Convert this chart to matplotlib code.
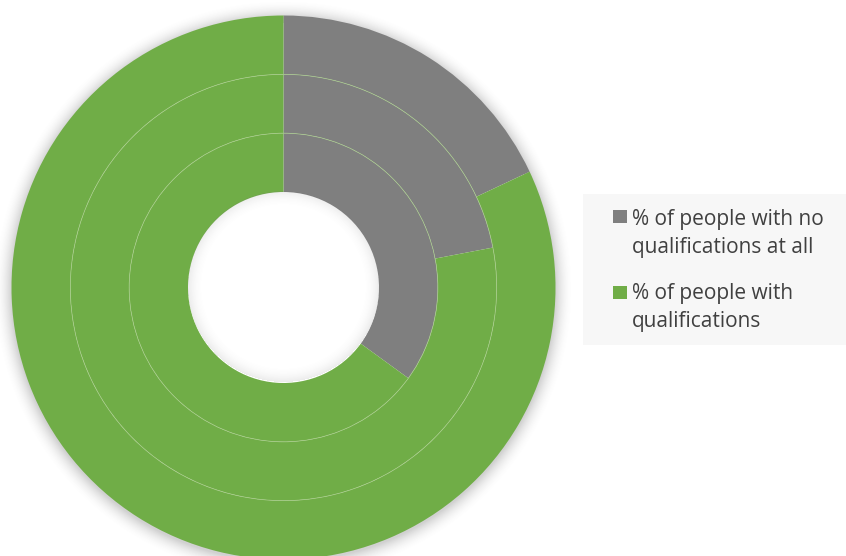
import numpy as np
import matplotlib.pyplot as plt
from matplotlib.patches import Circle, Rectangle

# share of people with no qualifications, per ring (outer -> inner)
rings = ['outer', 'middle', 'inner']
no_qual = [18.0, 22.0, 35.0]
with_qual = [100 - v for v in no_qual]
labels = [['% of people with no', 'qualifications at all'],
          ['% of people with', 'qualifications']]
colors = ['#7f7f7f', '#70ad47']

W, H = 846, 556
fig = plt.figure(figsize=(W / 100, H / 100), dpi=100)
ax = fig.add_axes([0, 0, 1, 1])

cx, cy = 283.5, H - 287.5
r_out = 272
r_in = 95.5
width = (r_out - r_in) / 3

# soft shadow behind the chart
yy, xx = np.mgrid[0:H, 0:W]
d = np.hypot(xx + 0.5 - cx, (H - yy - 0.5) - (cy - 2))
alpha = np.clip(1 - (d - r_out) / 18, 0, 1) ** 2 * 0.3
alpha[d < r_out - 5] = 0
shadow = np.zeros((H, W, 4))
shadow[..., :3] = 0.4
shadow[..., 3] = alpha
ax.imshow(shadow, extent=(0, W, 0, H), origin='upper', zorder=0)

# shadow inside the hole
d2 = np.hypot(xx + 0.5 - cx, (H - yy - 0.5) - (cy + 1))
a2 = np.clip(1 - (r_in - d2) / 16, 0, 1) ** 2 * 0.14
a2[d2 > r_in] = 0
inner = np.zeros((H, W, 4))
inner[..., :3] = 0.45
inner[..., 3] = a2

for i, name in enumerate(rings):
    ax.pie([no_qual[i], with_qual[i]], colors=colors, startangle=90,
           counterclock=False, radius=r_out - i * width, center=(cx, cy),
           wedgeprops=dict(width=width, linewidth=0), frame=True)

ax.imshow(inner, extent=(0, W, 0, H), origin='upper', zorder=5)

for k in range(1, 3):
    ax.add_patch(Circle((cx, cy), r_out - k * width, fill=False,
                        edgecolor='#a9cd8c', linewidth=0.5, zorder=4))

# legend
ax.add_patch(Rectangle((583, H - 345), W - 583, 151, facecolor='#f7f7f7',
                       edgecolor='none', zorder=6))
sq_top = [210, 286]
base = [[225, 253], [299, 327]]
for i in range(2):
    ax.add_patch(Rectangle((613, H - sq_top[i] - 13), 14, 13, facecolor=colors[i],
                           edgecolor='none', zorder=7))
    for j, line in enumerate(labels[i]):
        ax.text(632, H - base[i][j], line, family='Open Sans', fontsize=15,
                color='#404040', va='baseline', ha='left', zorder=7)

ax.set_xlim(0, W)
ax.set_ylim(0, H)
ax.set_aspect('auto')
ax.axis('off')

fig.savefig('out.png', dpi=100, facecolor='white')
